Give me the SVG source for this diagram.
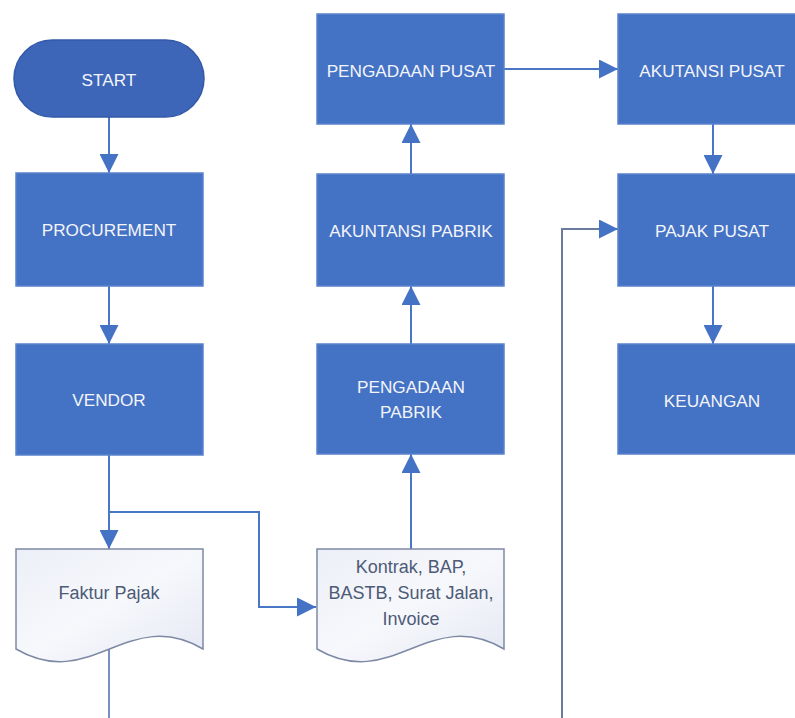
<svg xmlns="http://www.w3.org/2000/svg" width="795" height="718" viewBox="0 0 795 718">
<style>
.box{fill:#4472C4;stroke:#5a83cc;stroke-width:1.5}
.pill{fill:#3d66b9;stroke:#3359a8;stroke-width:1.5}
.doc{fill:url(#docg);stroke:#7d89a4;stroke-width:1.5}
.bt{font-family:"Liberation Sans",Arial,sans-serif;font-size:17.2px;fill:#f3f5fa;text-anchor:middle}
.dt{font-family:"Liberation Sans",Arial,sans-serif;font-size:18px;fill:#4d5b77;text-anchor:middle}
.c{fill:none;stroke:#4a76c6;stroke-width:2}
.cg{fill:none;stroke:#6a7b9c;stroke-width:2}
.cl{fill:none;stroke:#7990c0;stroke-width:2}
</style>
<defs>
<linearGradient id="docg" x1="0" y1="0" x2="1" y2="1">
<stop offset="0" stop-color="#eceff7"/>
<stop offset="0.5" stop-color="#f7f8fc"/>
<stop offset="1" stop-color="#e4e8f3"/>
</linearGradient>
<marker id="ah" viewBox="0 0 19 19" refX="19" refY="9.5" markerWidth="19" markerHeight="19" markerUnits="userSpaceOnUse" orient="auto">
<path d="M0,0 L19,9.5 L0,19 Z" fill="#4472C4"/>
</marker>
</defs>
<rect width="795" height="718" fill="#ffffff"/>
<g id="connectors">
<path class="c" d="M109,117 V173" marker-end="url(#ah)"/>
<path class="c" d="M109,286 V344" marker-end="url(#ah)"/>
<path class="c" d="M109,455 V549" marker-end="url(#ah)"/>
<path class="c" d="M109,512 H259 V607 H316" marker-end="url(#ah)"/>
<path class="c" d="M411,549 V454" marker-end="url(#ah)"/>
<path class="c" d="M411,344 V286" marker-end="url(#ah)"/>
<path class="c" d="M411,174 V124" marker-end="url(#ah)"/>
<path class="c" d="M504,69 H618" marker-end="url(#ah)"/>
<path class="c" d="M713,124 V174" marker-end="url(#ah)"/>
<path class="c" d="M713,286 V344" marker-end="url(#ah)"/>
<path class="cl" d="M109,649 V718"/>
<path class="cg" d="M562,718 V229 H618" marker-end="url(#ah)"/>
</g>
<g id="start">
<rect class="pill" x="14" y="40" width="190" height="77" rx="38.5" ry="38.5"/>
<text class="bt" x="109" y="86">START</text>
</g>
<g id="procurement">
<rect class="box" x="16" y="173" width="187" height="113"/>
<text class="bt" x="109" y="236">PROCUREMENT</text>
</g>
<g id="vendor">
<rect class="box" x="16" y="344" width="187" height="111"/>
<text class="bt" x="109" y="406">VENDOR</text>
</g>
<g id="faktur-pajak">
<path class="doc" d="M16,549 H203 V649 C128,605 91,693 16,649 Z"/>
<text class="dt" x="109" y="599">Faktur Pajak</text>
</g>
<g id="dokumen">
<path class="doc" d="M317,549 H504 V649 C429,605 392,693 317,649 Z"/>
<text class="dt" x="411" y="573">Kontrak, BAP,</text>
<text class="dt" x="411" y="599">BASTB, Surat Jalan,</text>
<text class="dt" x="411" y="625">Invoice</text>
</g>
<g id="pengadaan-pabrik">
<rect class="box" x="317" y="344" width="187" height="110"/>
<text class="bt" x="411" y="393">PENGADAAN</text>
<text class="bt" x="411" y="418">PABRIK</text>
</g>
<g id="akuntansi-pabrik">
<rect class="box" x="317" y="174" width="187" height="112"/>
<text class="bt" x="411" y="237">AKUNTANSI PABRIK</text>
</g>
<g id="pengadaan-pusat">
<rect class="box" x="317" y="14" width="187" height="110"/>
<text class="bt" x="411" y="77">PENGADAAN PUSAT</text>
</g>
<g id="akutansi-pusat">
<rect class="box" x="618" y="14" width="187" height="110"/>
<text class="bt" x="712" y="77">AKUTANSI PUSAT</text>
</g>
<g id="pajak-pusat">
<rect class="box" x="618" y="174" width="187" height="112"/>
<text class="bt" x="712" y="237">PAJAK PUSAT</text>
</g>
<g id="keuangan">
<rect class="box" x="618" y="344" width="187" height="110"/>
<text class="bt" x="712" y="407">KEUANGAN</text>
</g>
</svg>
